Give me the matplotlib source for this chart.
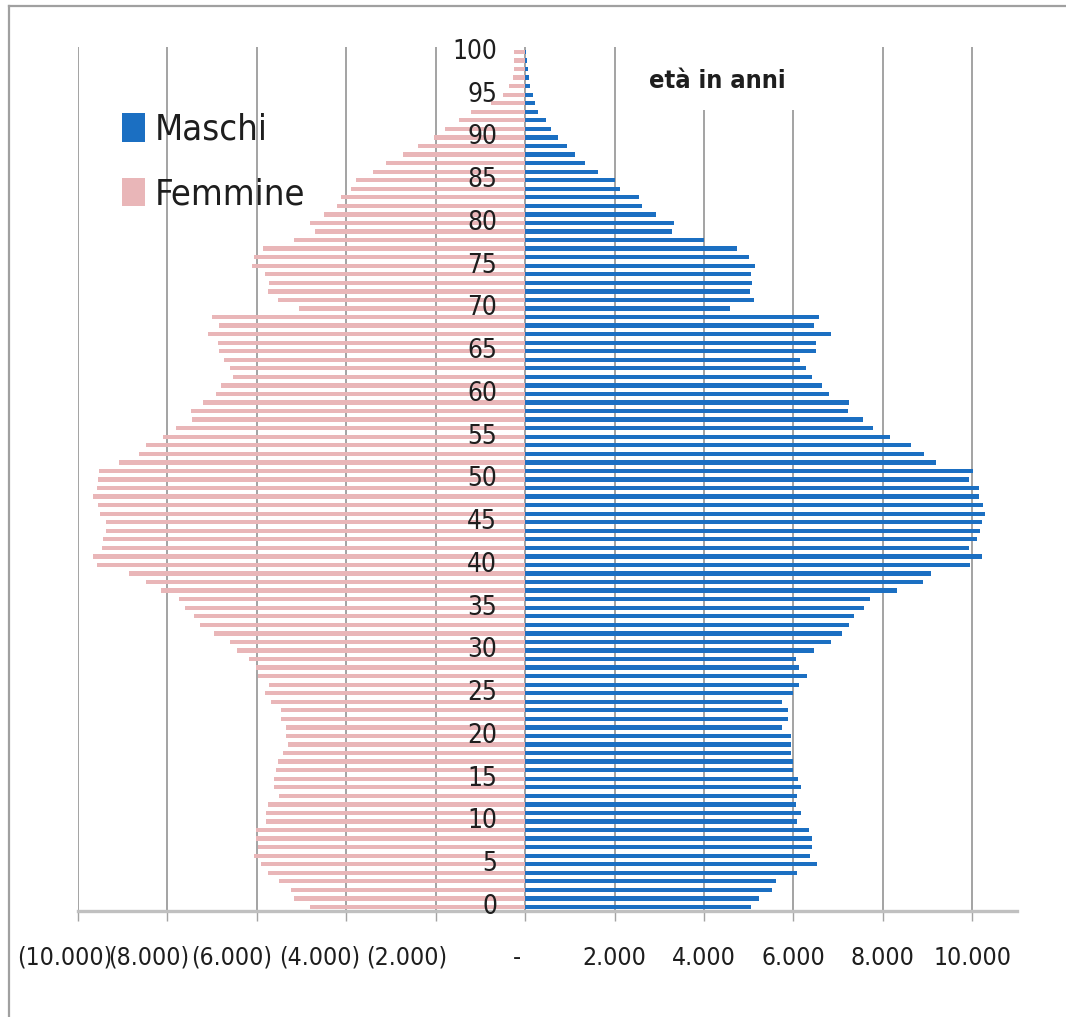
import os
import matplotlib
matplotlib.use("Agg")
import matplotlib.pyplot as plt
import matplotlib.font_manager as fm
from matplotlib.font_manager import FontProperties
from matplotlib.patches import Patch, Rectangle
from matplotlib.lines import Line2D
from matplotlib.transforms import ScaledTranslation
import numpy as np

# ---------------- data ----------------
ages = list(range(0, 101))
maschi = [5040, 5240, 5510, 5620, 6070, 6520, 6380, 6410, 6410, 6340,
          6070, 6170, 6060, 6070, 6170, 6100, 6000, 6000, 5940, 5940,
          5940, 5750, 5880, 5880, 5750, 6000, 6120, 6310, 6120, 6050,
          6450, 6850, 7080, 7250, 7350, 7580, 7710, 8310, 8900, 9080,
          9940, 10210, 9920, 10110, 10170, 10220, 10280, 10250, 10150, 10150,
          9920, 10010, 9190, 8920, 8620, 8170, 7780, 7550, 7220, 7250,
          6790, 6640, 6410, 6280, 6140, 6510, 6510, 6850, 6450, 6570,
          4580, 5110, 5020, 5070, 5040, 5150, 5010, 4740, 3990, 3280,
          3340, 2920, 2610, 2540, 2130, 2000, 1640, 1340, 1120, 940,
          745, 580, 470, 280, 210, 170, 110, 80, 60, 40,
          30]
femmine = [4820, 5160, 5240, 5500, 5760, 5910, 6060, 5980, 6020, 6020,
           5790, 5790, 5760, 5500, 5610, 5610, 5570, 5530, 5420, 5310,
           5350, 5350, 5460, 5460, 5680, 5820, 5720, 5980, 6020, 6170,
           6440, 6610, 6950, 7280, 7410, 7610, 7750, 8140, 8480, 8850,
           9570, 9670, 9470, 9430, 9370, 9370, 9500, 9560, 9670, 9570,
           9560, 9540, 9080, 8630, 8480, 8110, 7810, 7460, 7470, 7210,
           6910, 6810, 6540, 6610, 6730, 6840, 6880, 7100, 6840, 7010,
           5050, 5530, 5760, 5720, 5820, 6110, 6070, 5870, 5160, 4710,
           4820, 4490, 4210, 4120, 3890, 3780, 3410, 3110, 2740, 2400,
           2030, 1800, 1480, 1210, 760, 500, 360, 280, 250, 250,
           250]
x_ticks = [-10000, -8000, -6000, -4000, -2000, 0, 2000, 4000, 6000, 8000, 10000]
x_tick_labels = ["(10.000)", "(8.000)", "(6.000)", "(4.000)", "(2.000)", "-",
                 "2.000", "4.000", "6.000", "8.000", "10.000"]
age_labels = list(range(0, 101, 5))
series_names = ["Maschi", "Femmine"]
axis_title = "età in anni"

# ---------------- fonts: prefer a condensed sans ----------------
def find_font(keys):
    files = {os.path.basename(f.fname).lower(): f.fname for f in fm.fontManager.ttflist}
    for k in keys:
        if k in files:
            return files[k]
    return None

reg_path = find_font(["liberationsansnarrow-regular.ttf", "dejavusanscondensed.ttf",
                      "robotocondensed-regular.ttf", "liberationsans-regular.ttf"])
bold_path = find_font(["liberationsansnarrow-bold.ttf", "dejavusanscondensed-bold.ttf",
                       "robotocondensed-bold.ttf", "liberationsans-bold.ttf"])

def fprop(path, weight="normal"):
    if path:
        return FontProperties(fname=path)
    return FontProperties(family="Liberation Sans", weight=weight)

P_REG = fprop(reg_path)
P_BOLD = fprop(bold_path, "bold")

BLUE = "#1b6fc2"
PINK = "#e9b6b8"
GRID = "#a3a3a3"
TXT = "#1e1e1e"

W, H = 1066, 1017
fig = plt.figure(figsize=(W / 100, H / 100), dpi=100)
fig.patch.set_facecolor("white")
renderer = fig.canvas.get_renderer()

def fit_size(s, prop, target_px, cap):
    p = prop.copy()
    p.set_size(10)
    t = fig.text(0, 0, s, fontproperties=p)
    w = t.get_window_extent(renderer).width
    t.remove()
    return min(cap, 10 * target_px / w)

tick_fs = fit_size("(10.000)", P_REG, 95, 22)
age_fs = fit_size("100", P_REG, 45, 23)
leg_fs = fit_size("Femmine", P_REG, 150, 31)
title_fs = fit_size(axis_title, P_BOLD, 136, 23)

def sized(prop, size):
    p = prop.copy()
    p.set_size(size)
    return p

ax_l, ax_r = 78 / W, 1017 / W
ax_b, ax_t = (H - 911) / H, (H - 47) / H
ax = fig.add_axes([ax_l, ax_b, ax_r - ax_l, ax_t - ax_b])

ages_a = np.array(ages)
ax.barh(ages_a, np.array(maschi), height=0.5, color=BLUE, zorder=3)
ax.barh(ages_a, -np.array(femmine), height=0.5, color=PINK, zorder=3)

ax.set_xlim(-10000, 11000)
ax.set_ylim(-0.47, 100.58)

ax.set_xticks(x_ticks)
ax.set_xticklabels(x_tick_labels)
ax.set_yticks([])
ax.xaxis.grid(True, color=GRID, linewidth=1.4, zorder=0)
ax.set_axisbelow(True)
for s in ["left", "right", "top"]:
    ax.spines[s].set_visible(False)
ax.spines["bottom"].set_color("#c0c0c0")
ax.spines["bottom"].set_linewidth(2.4)
ax.spines["bottom"].set_zorder(4)

tick_len_pt = 7
label_top_px = 946
pad_pt = (label_top_px - 911 - tick_len_pt * 100 / 72) * 72 / 100
ax.tick_params(axis="x", length=tick_len_pt, width=1.0, color=GRID, pad=pad_pt,
               labelcolor=TXT)

label_offsets_px = [-13, -19, -25, -27, -29, -8, 0, 0, 0, 0, 0]
for lbl, off in zip(ax.get_xticklabels(), label_offsets_px):
    lbl.set_fontproperties(sized(P_REG, tick_fs))
    lbl.set_transform(lbl.get_transform() + ScaledTranslation(off / 100, 0, fig.dpi_scale_trans))

# age labels in the middle
for a in age_labels:
    ax.text(-630, a, str(a), ha="right", va="center",
            fontproperties=sized(P_REG, age_fs), color=TXT, zorder=5)

# white box behind the axis title (hides grid lines)
ax.add_patch(Rectangle((640 / W, (H - 110) / H), 220 / W, 75 / H,
                       transform=fig.transFigure, facecolor="white",
                       edgecolor="none", zorder=2, clip_on=False))
fig.text(717 / W, 1 - 81 / H, axis_title, ha="center", va="center",
         fontproperties=sized(P_BOLD, title_fs), color=TXT, zorder=6)

# legend
leg_px = leg_fs * 100 / 72
handles = [Patch(facecolor=BLUE, label=series_names[0]),
           Patch(facecolor=PINK, label=series_names[1])]
leg = ax.legend(handles=handles, loc="upper left",
                bbox_to_anchor=(122 / W, 1 - 113 / H),
                bbox_transform=fig.transFigure, frameon=False,
                prop=sized(P_REG, leg_fs),
                handlelength=23 / leg_px, handleheight=30 / leg_px,
                handletextpad=10 / leg_px, labelspacing=0.62 + 8 / leg_px,
                borderpad=0, borderaxespad=0)
for t in leg.get_texts():
    t.set_color(TXT)

# outer border (top and left)
fig.add_artist(Line2D([9 / W, 1.0], [1 - 6 / H, 1 - 6 / H], transform=fig.transFigure,
                      color="#a0a0a0", linewidth=1.6))
fig.add_artist(Line2D([9 / W, 9 / W], [0, 1 - 6 / H], transform=fig.transFigure,
                      color="#a0a0a0", linewidth=1.6))

fig.savefig("out.png", dpi=100, facecolor="white")
